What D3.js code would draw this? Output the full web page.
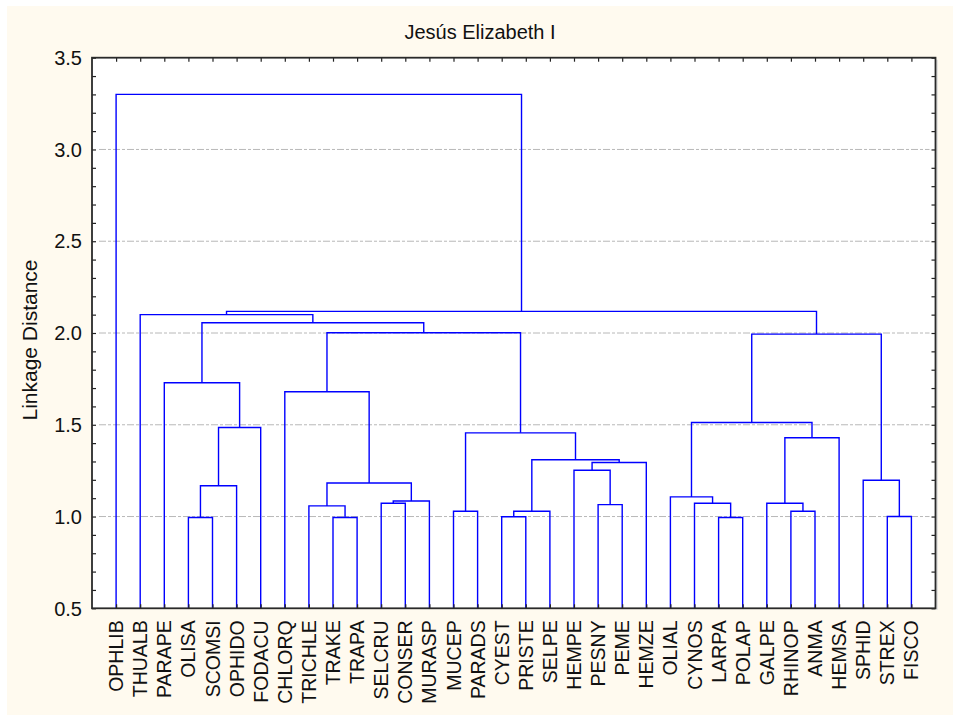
<!DOCTYPE html>
<html>
<head>
<meta charset="utf-8">
<script src="https://cdn.jsdelivr.net/npm/d3@7"></script>
<style>
  html, body { margin: 0; padding: 0; background: #ffffff; }
  svg { display: block; }
  text { font-family: Arial, "Liberation Sans", sans-serif; fill: #111; }
</style>
</head>
<body>
<svg id="chart" width="953" height="715"></svg>
<script>
// ---- data ----
const title = "Jesús Elizabeth I";
const yAxisTitle = "Linkage Distance";
const leaves = ["OPHLIB","THUALB","PARAPE","OLISA","SCOMSI","OPHIDO","FODACU","CHLORQ","TRICHLE","TRAKE","TRAPA",
  "SELCRU","CONSER","MURASP","MUCEP","PARADS","CYEST","PRISTE","SELPE","HEMPE","PESNY","PEME","HEMZE",
  "OLIAL","CYNOS","LARPA","POLAP","GALPE","RHINOP","ANMA","HEMSA","SPHID","STREX","FISCO"];
// merges: [left child, right child, linkage distance]; numbers refer to earlier merges
const merges = [
  ["OLISA","SCOMSI",0.995],   // 0
  [0,"OPHIDO",1.168],         // 1
  [1,"FODACU",1.485],         // 2
  ["PARAPE",2,1.729],         // 3
  ["TRAKE","TRAPA",0.995],    // 4
  ["TRICHLE",4,1.058],        // 5
  ["SELCRU","CONSER",1.072],  // 6
  [6,"MURASP",1.085],         // 7
  [5,7,1.183],                // 8
  ["CHLORQ",8,1.680],         // 9
  ["MUCEP","PARADS",1.029],   // 10
  ["CYEST","PRISTE",0.999],   // 11
  [11,"SELPE",1.029],         // 12
  ["PESNY","PEME",1.065],     // 13
  ["HEMPE",13,1.252],         // 14
  [14,"HEMZE",1.294],         // 15
  [12,15,1.309],              // 16
  [10,16,1.456],              // 17
  [9,17,2.001],               // 18
  [3,18,2.056],               // 19
  ["THUALB",19,2.100],        // 20
  ["LARPA","POLAP",0.995],    // 21
  ["CYNOS",21,1.072],         // 22
  ["OLIAL",22,1.107],         // 23
  ["RHINOP","ANMA",1.029],    // 24
  ["GALPE",24,1.072],         // 25
  [25,"HEMSA",1.429],         // 26
  [23,26,1.512],              // 27
  ["STREX","FISCO",1.000],    // 28
  ["SPHID",28,1.198],         // 29
  [27,29,1.994],              // 30
  [20,30,2.118],              // 31
  ["OPHLIB",31,3.300]         // 32
];
const yTicks = [0.5, 1.0, 1.5, 2.0, 2.5, 3.0, 3.5];
const yGrid = [1.0, 1.5, 2.0, 2.5, 3.0];

// ---- layout ----
const W = 953, H = 715;
const L = 92, R = 935.5, T = 57.7, B = 608.3;
const svg = d3.select("#chart");

svg.append("rect").attr("x", 7).attr("y", 6).attr("width", W - 7).attr("height", H - 6)
  .attr("fill", "#fffaef");
svg.append("rect").attr("x", L).attr("y", T).attr("width", R - L).attr("height", B - T)
  .attr("fill", "#ffffff");
// faint shadow on right of plot
svg.append("line").attr("x1", R + 1.5).attr("x2", R + 1.5).attr("y1", T + 2).attr("y2", B + 1.5)
  .attr("stroke", "#dddddd").attr("stroke-width", 1.5);

const x = d3.scaleLinear().domain([0, leaves.length + 1]).range([L, R]);
const y = d3.scaleLinear().domain([0.5, 3.5]).range([B, T]);

// gridlines
svg.append("g").selectAll("line").data(yGrid).join("line")
  .attr("x1", L + 7).attr("x2", R - 6)
  .attr("y1", d => y(d)).attr("y2", d => y(d))
  .attr("stroke", "#b8b8b8").attr("stroke-width", 1)
  .attr("stroke-dasharray", "7,2,3,2");

// dendrogram
const pos = {};
leaves.forEach((n, i) => { pos[n] = { x: x(i + 1), h: 0.5 }; });
const nodes = [];
function getNode(k) { return typeof k === "number" ? nodes[k] : pos[k]; }
const g = svg.append("g").attr("fill", "none").attr("stroke", "#0000ff").attr("stroke-width", 1.4);
merges.forEach(m => {
  const a = getNode(m[0]), b = getNode(m[1]);
  const node = { x: (a.x + b.x) / 2, h: m[2] };
  nodes.push(node);
  g.append("path").attr("d",
    `M${a.x},${y(a.h)}V${y(node.h)}H${b.x}V${y(b.h)}`);
});

// axes frame
const axG = svg.append("g");
const yAxisL = d3.axisLeft(y).tickValues(d3.range(5, 36).map(v => v / 10)).tickSize(-4).tickFormat("");
axG.append("g").attr("transform", `translate(${L},0)`).call(yAxisL);
const yAxisR = d3.axisRight(y).tickValues(d3.range(5, 36).map(v => v / 10)).tickSize(-4).tickFormat("");
axG.append("g").attr("transform", `translate(${R},0)`).call(yAxisR);
const leafTicks = leaves.map((n, i) => i + 1);
const xAxisT = d3.axisTop(x).tickValues(leafTicks).tickSize(-4).tickFormat("");
axG.append("g").attr("transform", `translate(0,${T})`).call(xAxisT);
const xAxisB = d3.axisBottom(x).tickValues(leafTicks).tickSize(-4).tickFormat("");
axG.append("g").attr("transform", `translate(0,${B})`).call(xAxisB);
axG.selectAll(".domain").remove();
axG.selectAll(".tick line").attr("stroke", "#222").attr("stroke-width", 1.2);
svg.append("rect").attr("x", L).attr("y", T).attr("width", R - L).attr("height", B - T)
  .attr("fill", "none").attr("stroke", "#2a2a2a").attr("stroke-width", 1.8);

// y tick labels
svg.append("g").selectAll("text").data(yTicks).join("text")
  .attr("x", L - 10).attr("y", d => y(d)).attr("dy", "0.36em")
  .attr("text-anchor", "end").style("font-size", "20px")
  .text(d => d3.format(".1f")(d));

// leaf labels
svg.append("g").selectAll("text").data(leaves).join("text")
  .attr("transform", (d, i) => `translate(${x(i + 1)},${B + 12}) rotate(-90)`)
  .attr("dy", "0.36em").attr("text-anchor", "end").style("font-size", "19.5px")
  .text(d => d);

// title
svg.append("text").attr("x", 480).attr("y", 39).attr("text-anchor", "middle")
  .style("font-size", "20px").text(title);

// y axis title
svg.append("text").attr("transform", "translate(37,340) rotate(-90)")
  .attr("text-anchor", "middle").style("font-size", "21px").text(yAxisTitle);
</script>
</body>
</html>
